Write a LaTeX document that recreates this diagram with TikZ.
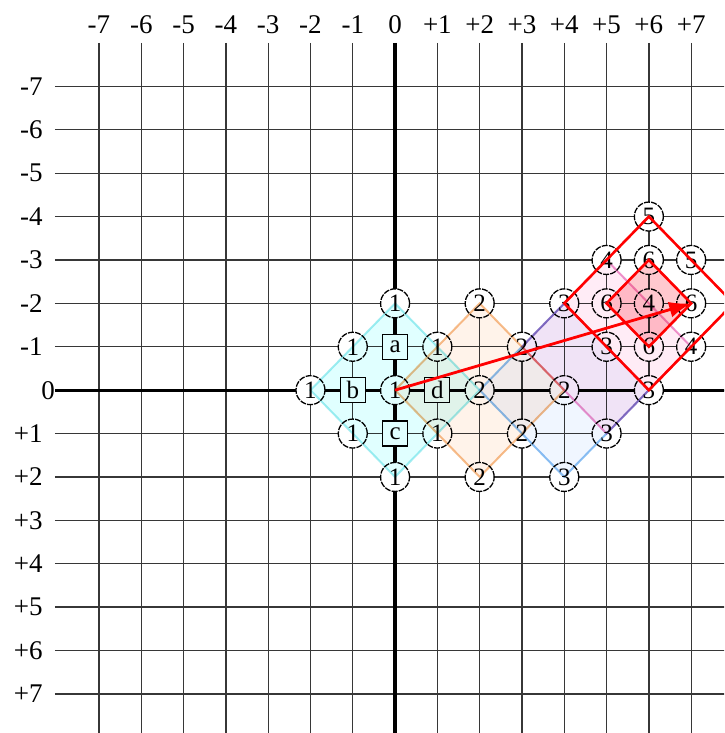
\documentclass[tikz,border=0pt]{standalone}
\usepackage{fontspec}
\setmainfont{Liberation Serif}
\usetikzlibrary{arrows.meta}
\definecolor{gridgray}{RGB}{55,55,55}
\definecolor{cyanline}{RGB}{165,236,240}
\definecolor{cyanfill}{RGB}{224,255,255}
\definecolor{orangeline}{RGB}{246,190,140}
\definecolor{orangefill}{RGB}{255,243,234}
\definecolor{blueline}{RGB}{140,192,242}
\definecolor{bluefill}{RGB}{240,246,255}
\definecolor{pinkline}{RGB}{238,150,206}
\definecolor{pinkfill}{RGB}{255,236,246}
\definecolor{redfill}{RGB}{255,200,206}
\definecolor{myred}{RGB}{255,0,0}
\tikzset{
  gridline/.style={line width=1.3pt, color=gridgray},
  axisline/.style={line width=3.2pt, color=black},
  ticklabel/.style={font=\fontsize{27}{27}\selectfont, inner sep=0pt},
  cnode/.style={circle, draw=black, dash pattern=on 6pt off 1.2pt, fill=white,
    minimum size=29pt, inner sep=0pt, line width=1.3pt, font=\fontsize{25}{25}\selectfont},
  bnode/.style={rectangle, draw=black, fill=white, minimum size=25pt,
    inner sep=0pt, line width=1.2pt, font=\fontsize{25}{25}\selectfont},
  zone/.style={line width=2pt, line join=miter},
  redzone/.style={line width=2.6pt, draw=myred, line join=miter},
  redarrow/.style={-{Latex[length=22pt, width=16pt]}, line width=2.8pt, color=myred}
}

\begin{document}
\begin{tikzpicture}[x=42.3pt, y=-43.4pt]
  \useasboundingbox (-9.34,-8.99) rectangle (7.78,7.90);
  \clip (-9.34,-8.99) rectangle (7.78,7.90);

  % Grid and axes
  \foreach \i in {-7,...,7} \draw[gridline] (\i,-8) -- (\i,8);
  \foreach \j in {-7,...,7} \draw[gridline] (-8.04,\j) -- (8,\j);
  \draw[axisline] (0,-8) -- (0,8);
  \draw[axisline] (-8.04,0) -- (8,0);

  % Tick labels
  \foreach \i in {-7,...,-1} {
    \node[ticklabel] (xl\i) at (\i,-8.43) {\i};
    \node[ticklabel, anchor=east] (yl\i) at (-8.33,\i) {\i};
  }
  \foreach \i in {1,...,7} {
    \node[ticklabel] (xl\i) at (\i,-8.43) {+\i};
    \node[ticklabel, anchor=east] (yl\i) at (-8.33,\i) {+\i};
  }
  \node[ticklabel] (xl0) at (0,-8.43) {0};
  \node[ticklabel] (yl0) at (-8.2,0) {0};

  % Level 1 and boxes
  \node[cnode] (src) at (0,0)   {1};
  \node[cnode] (u1)  at (0,-2)  {1};
  \node[cnode] (ul1) at (-1,-1) {1};
  \node[cnode] (ur1) at (1,-1)  {1};
  \node[cnode] (l1)  at (-2,0)  {1};
  \node[cnode] (dl1) at (-1,1)  {1};
  \node[cnode] (dr1) at (1,1)   {1};
  \node[cnode] (d1)  at (0,2)   {1};
  \node[bnode] (ba) at (0,-1) {a};
  \node[bnode] (bb) at (-1,0) {b};
  \node[bnode] (bc) at (0,1)  {c};
  \node[bnode] (bd) at (1,0)  {d};

  % Level 2
  \node[cnode] (t2)  at (2,-2) {2};
  \node[cnode] (r2a) at (3,-1) {2};
  \node[cnode] (m2)  at (2,0)  {2};
  \node[cnode] (e2)  at (4,0)  {2};
  \node[cnode] (r2b) at (3,1)  {2};
  \node[cnode] (b2)  at (2,2)  {2};

  % Level 3
  \node[cnode] (t3)  at (4,-2) {3};
  \node[cnode] (r3a) at (5,-1) {3};
  \node[cnode] (e3)  at (6,0)  {3};
  \node[cnode] (r3b) at (5,1)  {3};
  \node[cnode] (b3)  at (4,2)  {3};

  % Levels 4, 5, 6
  \node[cnode] (q4a) at (5,-3) {4};
  \node[cnode] (q4b) at (6,-2) {4};
  \node[cnode] (q4c) at (7,-1) {4};
  \node[cnode] (f5a) at (6,-4) {5};
  \node[cnode] (f5b) at (7,-3) {5};
  \node[cnode] (s6w) at (5,-2) {6};
  \node[cnode] (s6n) at (6,-3) {6};
  \node[cnode] (s6e) at (7,-2) {6};
  \node[cnode] (s6s) at (6,-1) {6};
  \coordinate (rc) at (8,-2);

  % Shaded zones
  \begin{scope}[blend mode=multiply]
    \draw[zone, draw=cyanline, fill=cyanfill] (u1.center) -- (l1.center) -- (d1.center) -- (m2.center) -- cycle;
    \draw[zone, draw=orangeline, fill=orangefill] (t2.center) -- (src.center) -- (b2.center) -- (e2.center) -- cycle;
    \draw[zone, draw=blueline, fill=bluefill] (t3.center) -- (m2.center) -- (b3.center) -- (e3.center) -- cycle;
    \draw[zone, draw=pinkline, fill=pinkfill] (q4a.center) -- (r2a.center) -- (r3b.center) -- (q4c.center) -- cycle;
    \fill[redfill] (s6n.center) -- (s6w.center) -- (s6s.center) -- (s6e.center) -- cycle;
  \end{scope}

  % Red frames and shift vector
  \draw[redzone] (s6n.center) -- (s6w.center) -- (s6s.center) -- (s6e.center) -- cycle;
  \draw[redzone] (f5a.center) -- (t3.center) -- (e3.center) -- (rc) -- cycle;
  \draw[redarrow] (src.center) -- (s6e.center);
\end{tikzpicture}
\end{document}
